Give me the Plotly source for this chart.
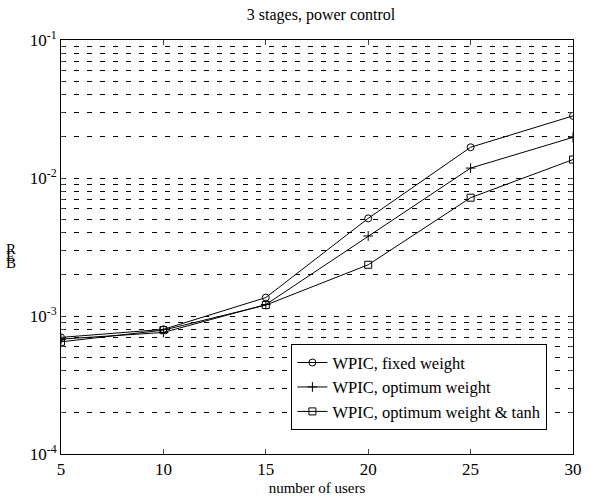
import plotly.graph_objects as go

# Number of active users
users = [5, 10, 15, 20, 25, 30]

# Bit error rate for each receiver variant
ber_fixed = [0.00070, 0.00080, 0.00136, 0.0051, 0.0167, 0.0282]
ber_optimum = [0.00068, 0.00076, 0.00121, 0.0038, 0.0118, 0.0197]
ber_tanh = [0.00065, 0.00079, 0.00120, 0.00235, 0.0072, 0.0136]

series_names = [
    "WPIC, fixed weight",
    "WPIC, optimum weight",
    "WPIC, optimum weight & tanh",
]
series_symbols = ["circle-open", "cross-thin-open", "square-open"]

x_ticks = [5, 10, 15, 20, 25, 30]
decades = [-4, -3, -2, -1]

FONT = "Liberation Serif"

# log-axis ticks at every 1..9 multiple; only the decades carry labels
y_tickvals = []
y_ticktext = []
for e in decades[:-1]:
    for k in range(1, 10):
        y_tickvals.append(k * 10.0 ** e)
        y_ticktext.append(f"10<sup>{e}</sup>" if k == 1 else "")
y_tickvals.append(10.0 ** decades[-1])
y_ticktext.append(f"10<sup>{decades[-1]}</sup>")

fig = go.Figure()
for name, ys, sym in zip(series_names, [ber_fixed, ber_optimum, ber_tanh], series_symbols):
    fig.add_trace(go.Scatter(
        x=users, y=ys, name=name, mode="lines+markers",
        line=dict(color="black", width=1),
        marker=dict(symbol=sym, size=7, color="black", line=dict(color="black", width=1)),
    ))

fig.update_layout(
    width=589, height=501,
    margin=dict(l=61, r=7, t=40, b=39),
    paper_bgcolor="white", plot_bgcolor="white",
    font=dict(family=FONT, size=15, color="black"),
    title=dict(text="3 stages, power control", x=0.545, xanchor="center",
               y=1 - 14 / 501, yanchor="middle", font=dict(family=FONT, size=16)),
    showlegend=True,
    legend=dict(
        x=0.95, xanchor="right", y=0.265, yanchor="top",
        bgcolor="white", bordercolor="black", borderwidth=1,
        font=dict(family=FONT, size=16.5), itemwidth=30,
        tracegroupgap=0,
    ),
)

fig.update_xaxes(
    range=[5, 30], tickvals=x_ticks, ticks="inside", ticklen=5,
    showline=True, linecolor="black", linewidth=1, mirror="ticks",
    showgrid=False, zeroline=False, ticklabeloverflow="allow",
    tickfont=dict(family=FONT, size=17),
    title=dict(text="number of users", font=dict(family=FONT, size=15), standoff=4),
)

fig.update_yaxes(
    type="log", range=[-4, -1], tickvals=y_tickvals, ticktext=y_ticktext,
    ticks="inside", ticklen=4,
    showline=True, linecolor="black", linewidth=1, mirror="ticks",
    showgrid=True, gridcolor="black", gridwidth=1, griddash="5px,8px",
    zeroline=False, tickfont=dict(family=FONT, size=17),
)

# stacked axis label
for i, ch in enumerate(["R", "E", "B"]):
    fig.add_annotation(
        text=ch, xref="paper", yref="paper", showarrow=False,
        x=-51 / 521, y=(462 - (253 + 7 * i)) / 422,
        xanchor="center", yanchor="middle",
        font=dict(family=FONT, size=15),
    )

fig.write_html("out.html")
